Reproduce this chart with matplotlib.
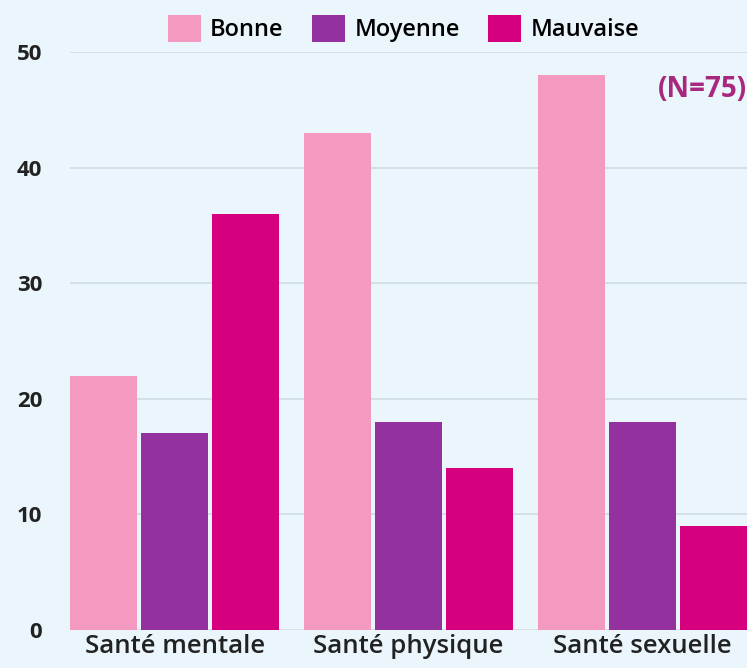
import matplotlib
matplotlib.use("Agg")
import matplotlib.pyplot as plt
import numpy as np

# data
categories = ["Santé mentale", "Santé physique", "Santé sexuelle"]
series_names = ["Bonne", "Moyenne", "Mauvaise"]
bonne = [22, 43, 48]
moyenne = [17, 18, 18]
mauvaise = [36, 14, 9]
y_ticks = [0, 10, 20, 30, 40, 50]

colors = ["#F49AC1", "#93319E", "#D6007F"]
bg = "#EAF6FB"

plt.rcParams["font.family"] = ["Open Sans", "DejaVu Sans"]

fig = plt.figure(figsize=(7.47, 6.68), dpi=100, facecolor=bg)
ax = fig.add_axes([0.0937, 0.057, 0.9063, 0.865], facecolor=bg)

x = np.arange(len(categories))
step = 0.304
width = 0.287
for i, (vals, name) in enumerate(zip([bonne, moyenne, mauvaise], series_names)):
    ax.bar(x + (i - 1) * step, vals, width, color=colors[i], label=name, zorder=3)

ax.set_xlim(-step - width / 2, 2 + step + width / 2)
ax.set_ylim(0, 50)
ax.set_yticks(y_ticks)
ax.set_yticklabels([str(t) for t in y_ticks], fontsize=16, fontweight="bold", color="#222222")
ax.set_xticks(x)
ax.set_xticklabels(categories, fontsize=18.5, fontweight="semibold", color="#222222")
ax.tick_params(axis="y", length=0, pad=20)
ax.tick_params(axis="x", length=0, pad=3)
ax.grid(axis="y", color="#CFDDE3", linewidth=1.2, zorder=0)
ax.set_axisbelow(True)
for s in ax.spines.values():
    s.set_visible(False)

ax.text(2 + step + width / 2, 46.8, "(N=75)", ha="right", va="center",
        fontsize=20, fontweight="bold", color="#A8287F")

fig.legend(loc="upper center", bbox_to_anchor=(0.54, 1.01), ncol=3, frameon=False,
           handlelength=1.4, handleheight=1.4, handletextpad=0.4, columnspacing=1.2,
           prop={"size": 17, "weight": "semibold"})

fig.savefig("out.png", dpi=100, facecolor=bg)
